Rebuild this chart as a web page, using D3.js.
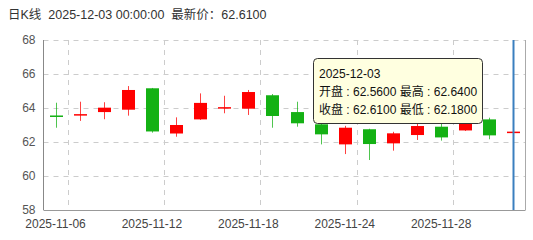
<!DOCTYPE html>
<html>
<head>
<meta charset="utf-8">
<script src="https://cdn.jsdelivr.net/npm/d3@7"></script>
<style>
  body { margin: 0; background: #fff; }
  svg { display: block; font-family: "Liberation Sans", "Noto Sans CJK SC", sans-serif; }
</style>
</head>
<body>
<svg id="chart" width="533" height="240"></svg>
<script>
// daily candles
var dates = ['2025-11-06', '2025-11-07', '2025-11-10', '2025-11-11', '2025-11-12', '2025-11-13',
    '2025-11-14', '2025-11-17', '2025-11-18', '2025-11-19', '2025-11-20', '2025-11-21',
    '2025-11-24', '2025-11-25', '2025-11-26', '2025-11-27', '2025-11-28', '2025-12-01',
    '2025-12-02', '2025-12-03'];
var opens  = [63.56, 63.62, 63.76, 63.90, 65.16, 62.50, 63.33, 64.02, 63.96, 64.75, 63.76, 63.04,
    61.86, 62.75, 61.92, 62.41, 62.90, 62.68, 63.33, 62.56];
var closes = [63.54, 63.64, 64.02, 65.06, 62.62, 63.00, 64.30, 64.05, 64.94, 63.53, 63.10, 62.45,
    62.84, 61.88, 62.51, 62.94, 62.27, 63.28, 62.39, 62.61];
var highs  = [64.31, 64.37, 64.34, 65.29, 65.18, 63.45, 64.86, 64.72, 65.06, 64.82, 64.37, 63.20,
    62.95, 62.78, 62.60, 63.06, 63.20, 63.35, 63.43, 62.64];
var lows   = [62.84, 63.24, 63.34, 63.55, 62.55, 62.31, 63.30, 63.69, 63.59, 62.84, 62.90, 61.86,
    61.29, 60.94, 61.49, 62.12, 62.08, 62.65, 62.16, 62.18];
var yTicks = [58, 60, 62, 64, 66, 68];
var labelEvery = 4;

(function () {
    var svg = d3.select('#chart');
    var pLeft = 43.5, pRight = 525.5, pTop = 40, pBottom = 210;

    var x = d3.scaleBand().domain(dates).range([pLeft, pRight]);
    var y = d3.scaleLinear().domain([58, 68]).range([pBottom, pTop]);

    var up = '#ff0000', down = '#14b114';

    // horizontal split lines
    svg.append('g').selectAll('line').data(yTicks.slice(1)).join('line')
        .attr('x1', pLeft).attr('x2', pRight)
        .attr('y1', function (d) { return Math.round(y(d)) + 0.5; })
        .attr('y2', function (d) { return Math.round(y(d)) + 0.5; })
        .attr('stroke', '#ccc').attr('stroke-dasharray', '5,5');

    // vertical split lines at the right edge of labelled bands
    var labelled = dates.filter(function (d, i) { return i % labelEvery == 0; });
    svg.append('g').selectAll('line').data(labelled).join('line')
        .attr('x1', function (d) { return Math.round(x(d) + x.bandwidth()) + 0.5; })
        .attr('x2', function (d) { return Math.round(x(d) + x.bandwidth()) + 0.5; })
        .attr('y1', pTop).attr('y2', pBottom)
        .attr('stroke', '#ccc').attr('stroke-dasharray', '5,5');

    // frame
    svg.append('line').attr('x1', pRight).attr('x2', pRight).attr('y1', pTop).attr('y2', pBottom)
        .attr('stroke', '#aaa');
    svg.append('line').attr('x1', pLeft).attr('x2', pRight).attr('y1', pBottom + 0.5).attr('y2', pBottom + 0.5)
        .attr('stroke', '#999');
    svg.append('line').attr('x1', pLeft).attr('x2', pLeft).attr('y1', pTop).attr('y2', pBottom)
        .attr('stroke', '#888');

    // y axis labels
    var yAxis = svg.append('g').attr('transform', 'translate(' + pLeft + ',0)')
        .call(d3.axisLeft(y).tickValues(yTicks).tickSize(0).tickPadding(8));
    yAxis.select('.domain').remove();
    yAxis.selectAll('text').attr('font-size', 12).attr('fill', '#555')
        .attr('font-family', '"Liberation Sans", sans-serif');

    // x axis labels
    var xAxis = svg.append('g').attr('transform', 'translate(0,' + pBottom + ')')
        .call(d3.axisBottom(x).tickValues(labelled).tickSize(0).tickPadding(9));
    xAxis.select('.domain').remove();
    xAxis.selectAll('text').attr('font-size', 12).attr('fill', '#444')
        .attr('font-family', '"Liberation Sans", sans-serif');

    // candles
    var idx = d3.range(dates.length);
    var color = function (i) { return closes[i] >= opens[i] ? up : down; };
    var cx = function (i) { return Math.round(x(dates[i]) + x.bandwidth() / 2) + 0.5; };
    var bw = 13;

    var candles = svg.append('g');
    candles.selectAll('line').data(idx).join('line')
        .attr('x1', cx).attr('x2', cx)
        .attr('y1', function (i) { return y(highs[i]); })
        .attr('y2', function (i) { return y(lows[i]); })
        .attr('stroke', color).attr('stroke-opacity', 0.75);
    candles.selectAll('rect').data(idx).join('rect')
        .attr('x', function (i) { return cx(i) - bw / 2; })
        .attr('width', bw)
        .attr('y', function (i) { return y(Math.max(opens[i], closes[i])); })
        .attr('height', function (i) { return Math.max(1.5, Math.abs(y(opens[i]) - y(closes[i]))); })
        .attr('fill', color);

    // axis pointer on the last day
    var last = dates.length - 1;
    svg.append('line').attr('x1', cx(last)).attr('x2', cx(last)).attr('y1', pTop).attr('y2', pBottom)
        .attr('stroke', '#3a7fbf').attr('stroke-width', 2);

    // title
    svg.append('text').attr('x', 8).attr('y', 19).attr('font-size', 12.5).attr('fill', '#333')
        .attr('xml:space', 'preserve')
        .text('日K线  ' + dates[last] + ' 00:00:00  最新价：' + closes[last].toFixed(4));

    // tooltip
    var tip = svg.append('g').attr('transform', 'translate(313.5,58.5)');
    tip.append('rect').attr('width', 169).attr('height', 65).attr('rx', 4)
        .attr('fill', '#ffffe0').attr('stroke', '#333');
    var tipLines = [
        dates[last],
        '开盘 : ' + opens[last].toFixed(4) + ' 最高 : ' + highs[last].toFixed(4),
        '收盘 : ' + closes[last].toFixed(4) + ' 最低 : ' + lows[last].toFixed(4)
    ];
    tip.selectAll('text').data(tipLines).join('text')
        .attr('x', 5.5)
        .attr('y', function (d, i) { return 19 + i * 18; })
        .attr('font-size', 12).attr('fill', '#111')
        .text(function (d) { return d; });
})();
</script>
</body>
</html>
